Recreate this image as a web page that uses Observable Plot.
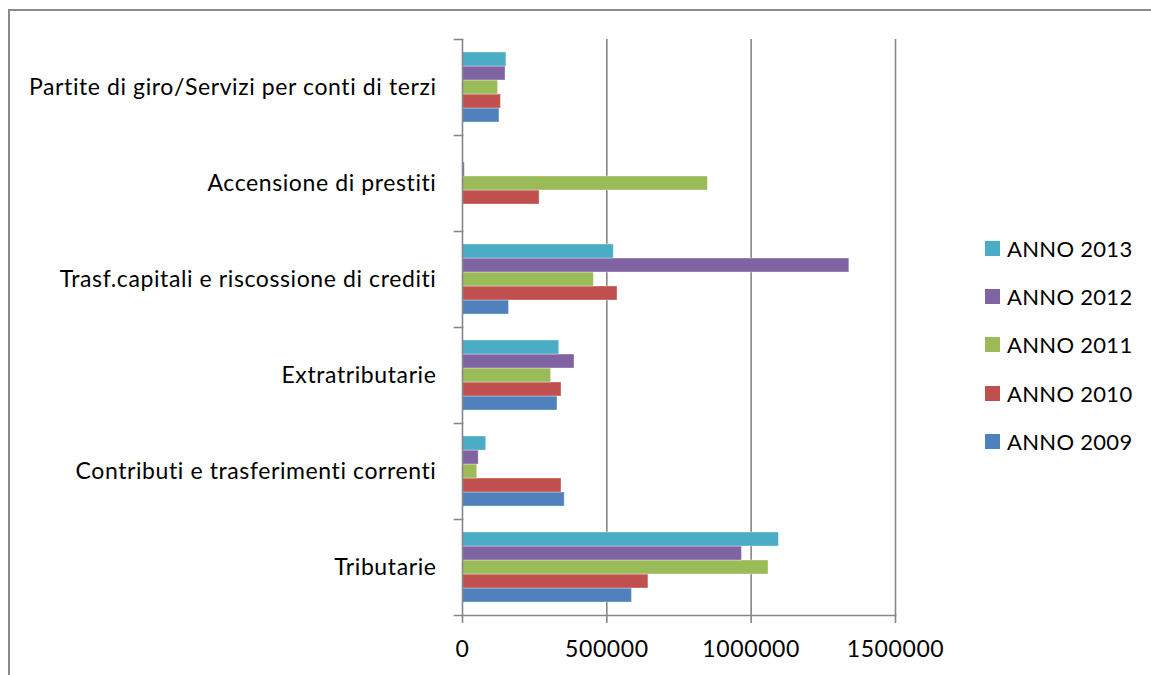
<!DOCTYPE html>
<html>
<head>
<meta charset="utf-8">
<script src="https://cdn.jsdelivr.net/npm/d3@7"></script>
<script src="https://cdn.jsdelivr.net/npm/@observablehq/plot@0.6"></script>
<style>
  html, body { margin: 0; padding: 0; background: #fff; }
  #wrap { position: relative; width: 1151px; height: 675px; font-family: Lato, "Open Sans", sans-serif; }
  .edge { position: absolute; background: #8a8a8a; }
  #edge-top { left: 8px; top: 9px; width: 1143px; height: 2px; }
  #edge-left { left: 8px; top: 9px; width: 2px; height: 666px; }
  #chart { width: 1151px; height: 675px; }
  #chart svg { display: block; max-width: none; overflow: visible; }
  #legend { position: absolute; left: 985px; top: 224px; width: 160px; }
  .item { display: flex; align-items: center; height: 48.4px; font-size: 22px; letter-spacing: 0.3px; color: #000; white-space: nowrap; }
  .sw { width: 15px; height: 15px; margin-right: 7px; flex: none; }
  #chart svg text { letter-spacing: 0.6px; }
</style>
</head>
<body>
<div id="wrap">
  <div id="chart"></div>
  <div class="edge" id="edge-top"></div>
  <div class="edge" id="edge-left"></div>
  <div id="legend"></div>
</div>
<script>
// Revenue categories, bottom to top as drawn
const categories = [
  "Tributarie",
  "Contributi e trasferimenti correnti",
  "Extratributarie",
  "Trasf.capitali e riscossione di crediti",
  "Accensione di prestiti",
  "Partite di giro/Servizi per conti di terzi"
];

const years = ["ANNO 2009", "ANNO 2010", "ANNO 2011", "ANNO 2012", "ANNO 2013"];
const colors = ["#4F81BD", "#C0504D", "#9BBB59", "#8064A2", "#4BACC6"];

// Amounts per year, same order as categories
const anno2009 = [587000, 354000, 329000, 161000, 0, 128000];
const anno2010 = [644000, 343000, 343000, 537000, 267000, 133000];
const anno2011 = [1060000, 51000, 307000, 455000, 850000, 123000];
const anno2012 = [968000, 56000, 388000, 1340000, 8000, 149000];
const anno2013 = [1096000, 82000, 335000, 524000, 0, 152000];

const xTicks = [0, 500000, 1000000, 1500000];

const series = [anno2009, anno2010, anno2011, anno2012, anno2013];
const rows = [];
years.forEach((year, j) => {
  categories.forEach((cat, i) => {
    rows.push({category: cat, year, value: series[j][i]});
  });
});

const width = 1151, height = 675;
const marginLeft = 462, marginRight = 256, marginTop = 39, marginBottom = 60;
const innerWidth = width - marginLeft - marginRight;
const axisColor = "#878787";
const font = "Lato, 'Open Sans', sans-serif";

const chart = Plot.plot({
  width, height, marginLeft, marginRight, marginTop, marginBottom,
  style: {fontFamily: font, fontSize: "23px", color: "#000", background: "transparent"},
  x: {domain: [0, 1500000], axis: null},
  y: {domain: [...years].reverse(), axis: null, paddingInner: 0, paddingOuter: 0.74},
  fy: {domain: [...categories].reverse(), axis: null, padding: 0},
  color: {domain: years, range: colors},
  marks: [
    // vertical gridlines
    Plot.ruleX(xTicks.slice(1), {stroke: axisColor, strokeWidth: 1.6}),
    Plot.barX(rows, {
      x: "value", y: "year", fy: "category", fill: "year",
      stroke: "#fff", strokeOpacity: 0.35, strokeWidth: 1
    }),
    // left axis line
    Plot.ruleX([0], {stroke: axisColor, strokeWidth: 1.6}),
    // category boundary ticks
    Plot.frame({anchor: "top", insetLeft: -8, insetRight: innerWidth, stroke: axisColor, strokeWidth: 1.6}),
    // bottom axis line
    Plot.frame({anchor: "bottom", insetLeft: -8, fy: [categories[0]], stroke: axisColor, strokeWidth: 1.6}),
    Plot.axisX({
      ticks: xTicks, tickFormat: d => String(d), tickSize: 8, tickPadding: 17,
      stroke: axisColor, strokeWidth: 1.6, strokeOpacity: 1, label: null, fill: "#000", fontSize: 23
    }),
    Plot.axisFy({
      anchor: "left", tickSize: 0, tickPadding: 26, label: null, fill: "#000", fontSize: 23,
      lineWidth: Infinity
    })
  ]
});
document.getElementById("chart").appendChild(chart);

// Legend, newest year on top
const legend = document.getElementById("legend");
[...years].reverse().forEach(y => {
  const item = document.createElement("div");
  item.className = "item";
  const sw = document.createElement("span");
  sw.className = "sw";
  sw.style.background = colors[years.indexOf(y)];
  const label = document.createElement("span");
  label.textContent = y;
  item.appendChild(sw);
  item.appendChild(label);
  legend.appendChild(item);
});
</script>
</body>
</html>
